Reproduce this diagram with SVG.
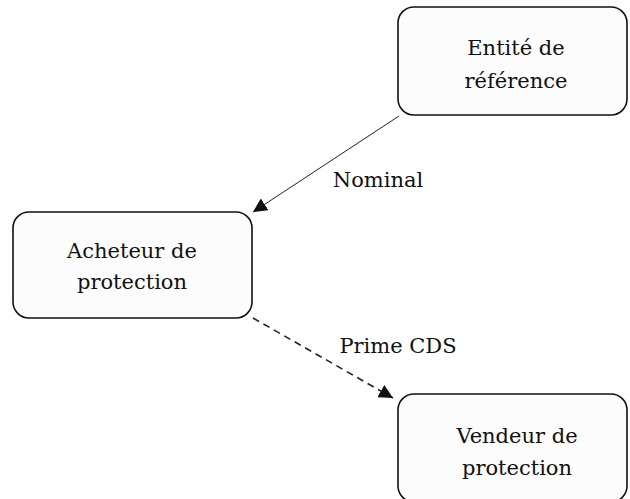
<svg xmlns="http://www.w3.org/2000/svg" width="630" height="499" viewBox="0 0 630 499">
  <style>
    .box { fill: #fcfcfc; stroke: #111; stroke-width: 1.6; }
    .lbl { font-family: "DejaVu Serif", "Liberation Serif", serif; font-size: 21px; fill: #111; text-anchor: middle; }
    .edge { fill: none; stroke: #222; }
  </style>
  <defs>
    <marker id="arrowBig" viewBox="0 0 10 10" refX="10" refY="5" markerWidth="14" markerHeight="14" markerUnits="userSpaceOnUse" orient="auto">
      <path d="M0,0 L10,5 L0,10 Z" fill="#111"/>
    </marker>
  </defs>

  <g id="connectors">
    <line class="edge" x1="399" y1="116" x2="253" y2="212" stroke-width="1" marker-end="url(#arrowBig)"/>
    <text class="lbl" x="378" y="187">Nominal</text>
    <line class="edge" x1="253" y1="318" x2="393" y2="398" stroke-width="1.6" stroke-dasharray="7,5" marker-end="url(#arrowBig)"/>
    <text class="lbl" x="398" y="353">Prime CDS</text>
  </g>

  <g id="entite">
    <rect class="box" x="398" y="7" width="229" height="108" rx="16"/>
    <text class="lbl" x="516" y="55">Entité de</text>
    <text class="lbl" x="516" y="88">référence</text>
  </g>

  <g id="acheteur">
    <rect class="box" x="13" y="212" width="239" height="106" rx="16"/>
    <text class="lbl" x="132" y="258">Acheteur de</text>
    <text class="lbl" x="132" y="289">protection</text>
  </g>

  <g id="vendeur">
    <rect class="box" x="398" y="394" width="229" height="108" rx="16"/>
    <text class="lbl" x="517" y="443">Vendeur de</text>
    <text class="lbl" x="517" y="475">protection</text>
  </g>
</svg>
